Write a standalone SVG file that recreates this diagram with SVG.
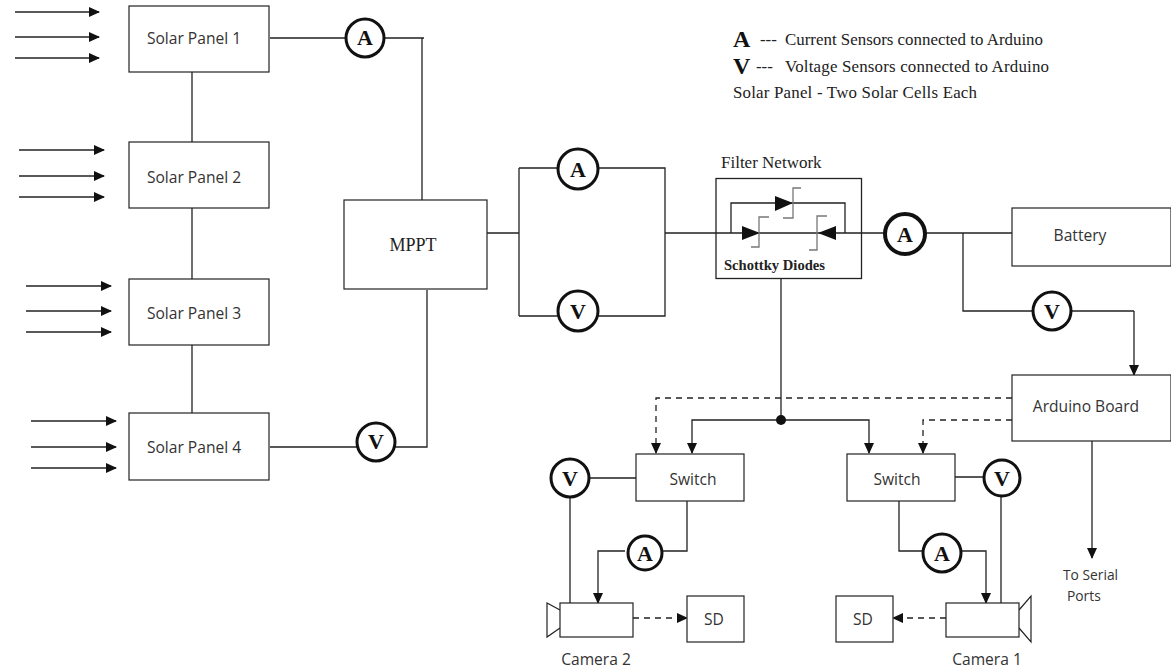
<svg xmlns="http://www.w3.org/2000/svg" width="1171" height="672" viewBox="0 0 1171 672">
<style>
.b{fill:#fff;stroke:#222;stroke-width:1.2}
.c{fill:none;stroke:#222;stroke-width:1.3}
.d{stroke-dasharray:6 5}
.g{fill:none;stroke:#777;stroke-width:1.3}
.s{fill:#fff;stroke:#111;stroke-width:3}
.t{font-family:"Open Sans","Noto Sans",sans-serif;font-size:15.6px;fill:#333;text-anchor:middle}
.u{font-family:"Open Sans","Noto Sans",sans-serif;font-size:13.8px;fill:#333}
.r{font-family:"Liberation Serif",serif;fill:#222}
.l{font-family:"Liberation Serif",serif;font-weight:bold;font-size:22px;fill:#111;text-anchor:middle}
</style>
<defs>
<marker id="a" markerUnits="userSpaceOnUse" markerWidth="12" markerHeight="12" refX="10" refY="5" orient="auto"><path d="M0 0L11 5L0 10Z" fill="#111"/></marker>
</defs>
<g id="connectors">
<path class="c" marker-end="url(#a)" d="M15 12H99"/><path class="c" marker-end="url(#a)" d="M15 37H99"/><path class="c" marker-end="url(#a)" d="M15 58H99"/>
<path class="c" marker-end="url(#a)" d="M19 150H104"/><path class="c" marker-end="url(#a)" d="M19 176H104"/><path class="c" marker-end="url(#a)" d="M19 197H104"/>
<path class="c" marker-end="url(#a)" d="M26 286H111"/><path class="c" marker-end="url(#a)" d="M26 311H111"/><path class="c" marker-end="url(#a)" d="M26 332H111"/>
<path class="c" marker-end="url(#a)" d="M31 421H116"/><path class="c" marker-end="url(#a)" d="M31 447H116"/><path class="c" marker-end="url(#a)" d="M31 468H116"/>
<path class="c" d="M192 72V142M192 208V279M192 345V413"/>
<path class="c" d="M270 38H424M422 38V200"/>
<path class="c" d="M270 447H427V290"/>
<path class="c" d="M487 233H519M519 168V316M519 168H665V316H519M665 233H716"/>
<path class="c" d="M716 233H885M925 233H1012M963 233V311H1134"/>
<path class="c" marker-end="url(#a)" d="M1134 311V375"/>
<path class="c" d="M781 279V420"/>
<path class="c" marker-end="url(#a)" d="M781 420H692V453"/>
<path class="c" marker-end="url(#a)" d="M781 420H869V453"/>
<circle cx="781" cy="420" r="5" fill="#111"/>
<path class="c d" marker-end="url(#a)" d="M1012 398H656V453"/>
<path class="c d" marker-end="url(#a)" d="M1012 420H923V453"/>
<path class="c" marker-end="url(#a)" d="M1092 441V558"/>
<path class="c" d="M636 478H590M570 490V603"/>
<path class="c" d="M687 501V551H660"/>
<path class="c" marker-end="url(#a)" d="M625 551H598V603"/>
<path class="c d" marker-end="url(#a)" d="M633 618H687"/>
<path class="c" d="M955 477H985M1001 497V603"/>
<path class="c" d="M899 501V551H922"/>
<path class="c" marker-end="url(#a)" d="M962 551H986V603"/>
<path class="c d" marker-end="url(#a)" d="M946 618H893"/>
</g>
<g id="panel1"><rect class="b" x="129" y="6" width="140" height="66"/><text class="t" x="194" y="44">Solar Panel 1</text></g>
<g id="panel2"><rect class="b" x="129" y="142" width="140" height="66"/><text class="t" x="194" y="183">Solar Panel 2</text></g>
<g id="panel3"><rect class="b" x="129" y="279" width="140" height="66"/><text class="t" x="194" y="319">Solar Panel 3</text></g>
<g id="panel4"><rect class="b" x="129" y="413" width="140" height="67"/><text class="t" x="194" y="453">Solar Panel 4</text></g>
<g id="mppt"><rect class="b" x="344" y="200" width="143" height="89"/><text class="r" x="413" y="251" font-size="18" text-anchor="middle">MPPT</text></g>
<g id="sensor-a1"><circle class="s" cx="365" cy="38" r="19"/><text class="l" x="365" y="45">A</text></g>
<g id="sensor-v1"><circle class="s" cx="376" cy="442" r="19"/><text class="l" x="376" y="449">V</text></g>
<g id="sensor-a2"><circle class="s" cx="578" cy="169" r="20"/><text class="l" x="578" y="177">A</text></g>
<g id="sensor-v2"><circle class="s" cx="578" cy="311" r="20"/><text class="l" x="578" y="319">V</text></g>
<g id="filter">
<rect x="716" y="178.500" width="145.500" height="100" fill="none" stroke="#222" stroke-width="1.3"/>
<text class="r" x="721" y="168" font-size="17">Filter Network</text>
<path class="c" d="M731 233V203H845V233"/>
<path d="M742 226L760 233L742 240Z" fill="#111"/>
<path d="M775 196L793 203L775 211Z" fill="#111"/>
<path d="M836 226L818 233L836 240Z" fill="#111"/>
<path class="g" d="M751 247H759V217H769"/>
<path class="g" d="M783 218H793V188H801"/>
<path class="g" d="M809 250H817V216H827"/>
<text class="r" x="724" y="270" font-size="14.600" font-weight="bold">Schottky Diodes</text>
</g>
<g id="sensor-a3"><circle cx="905" cy="234" r="20" fill="#fff" stroke="#111" stroke-width="4"/><text class="l" x="905" y="242">A</text></g>
<g id="battery"><rect class="b" x="1012" y="208" width="159" height="58"/><text class="t" x="1080" y="241">Battery</text></g>
<g id="sensor-v3"><circle class="s" cx="1052" cy="311" r="19"/><text class="l" x="1052" y="319">V</text></g>
<g id="arduino"><rect class="b" x="1012" y="375" width="159" height="66"/><text class="t" x="1086" y="412">Arduino Board</text></g>
<g id="switch2"><rect class="b" x="636" y="454" width="108" height="47"/><text class="t" x="693" y="485">Switch</text></g>
<g id="switch1"><rect class="b" x="847" y="454" width="108" height="47"/><text class="t" x="897" y="485">Switch</text></g>
<g id="sensor-v4"><circle class="s" cx="570" cy="478" r="19"/><text class="l" x="570" y="486">V</text></g>
<g id="sensor-a4"><circle class="s" cx="645" cy="553" r="17"/><text class="l" x="645" y="561">A</text></g>
<g id="sensor-v5"><circle class="s" cx="1002" cy="478" r="18"/><text class="l" x="1002" y="486">V</text></g>
<g id="sensor-a5"><circle class="s" cx="942" cy="553" r="19"/><text class="l" x="942" y="561">A</text></g>
<g id="camera2"><path class="b" d="M560 610L547 603V637L560 628"/><rect class="b" x="560" y="603" width="73" height="34"/><text class="t" x="596" y="665">Camera 2</text></g>
<g id="sd2"><rect class="b" x="687" y="596" width="57" height="46"/><text class="t" x="714" y="625">SD</text></g>
<g id="camera1"><path class="b" d="M1019 610L1031 596V642L1019 628"/><rect class="b" x="946" y="603" width="73" height="34"/><text class="t" x="987" y="665">Camera 1</text></g>
<g id="sd1"><rect class="b" x="836" y="596" width="57" height="46"/><text class="t" x="863" y="625">SD</text></g>
<text class="u" x="1063" y="580">To Serial</text>
<text class="u" x="1067" y="601">Ports</text>
<g id="legend" class="r">
<text x="733" y="47" font-size="24" font-weight="bold" fill="#111">A</text>
<text x="760" y="45" font-size="16.900">---</text>
<text x="785" y="45" font-size="16.900" textLength="258">Current Sensors connected to Arduino</text>
<text x="733" y="74" font-size="24" font-weight="bold" fill="#111">V</text>
<text x="756" y="72" font-size="16.900">---</text>
<text x="785" y="72" font-size="16.900" textLength="264">Voltage Sensors connected to Arduino</text>
<text x="733" y="98" font-size="16.900" textLength="244">Solar Panel - Two Solar Cells Each</text>
</g>
</svg>
